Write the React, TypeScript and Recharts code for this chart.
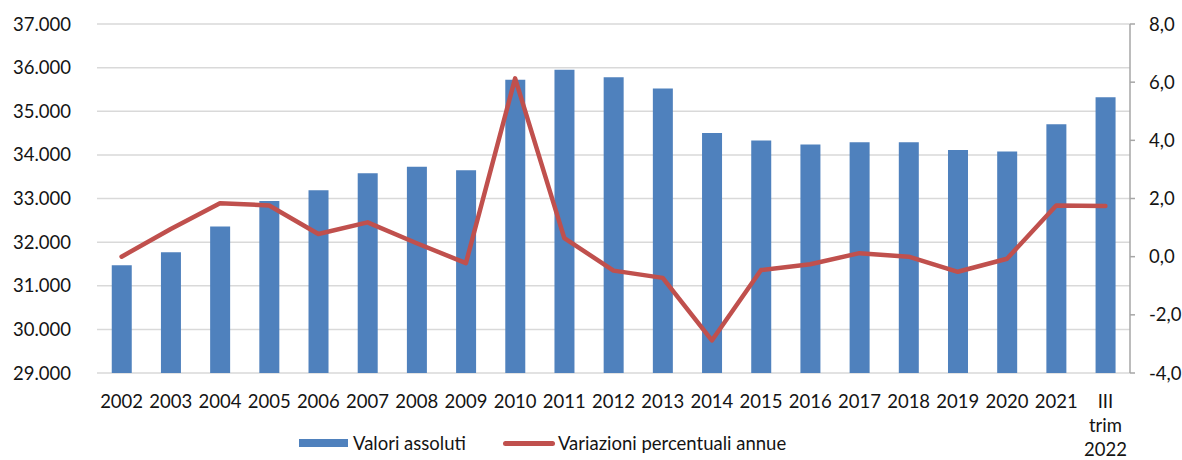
import { ComposedChart, Bar, Line, XAxis, YAxis, CartesianGrid, Legend } from "recharts";

const categories = [
  "2002", "2003", "2004", "2005", "2006", "2007", "2008", "2009", "2010", "2011",
  "2012", "2013", "2014", "2015", "2016", "2017", "2018", "2019", "2020", "2021",
  "III trim 2022",
];

// Valori assoluti (asse sinistro)
const valoriAssoluti = [
  31470, 31770, 32360, 32940, 33190, 33580, 33730, 33650, 35720, 35950,
  35780, 35520, 34500, 34330, 34240, 34290, 34290, 34110, 34080, 34700,
  35320,
];

// Variazioni percentuali annue (asse destro)
const variazioniPercentuali = [
  0.0, 0.95, 1.84, 1.76, 0.78, 1.18, 0.46, -0.22, 6.13, 0.64,
  -0.48, -0.73, -2.88, -0.46, -0.26, 0.12, 0.0, -0.52, -0.07, 1.76,
  1.74,
];

const leftTicks = [29000, 30000, 31000, 32000, 33000, 34000, 35000, 36000, 37000];
const rightTicks = [-4, -2, 0, 2, 4, 6, 8];

const FONT = "Lato, 'Open Sans', sans-serif";
const FONT_SIZE = 18.5;
const TEXT = "#141414";
const BAR_COLOR = "#4F81BD";
const LINE_COLOR = "#C0504D";

const data = categories.map((cat, i) => ({
  cat,
  valori: valoriAssoluti[i],
  variazioni: variazioniPercentuali[i],
}));

function formatThousands(v: number): string {
  return String(v).replace(/\B(?=(\d{3})+(?!\d))/g, ".");
}

function formatPct(v: number): string {
  return v.toFixed(1).replace(".", ",");
}

function CategoryTick(props: any) {
  const { x, y, payload } = props;
  const lines = String(payload.value).split(" ");
  return (
    <text x={x} y={y + 35} textAnchor="middle" fontFamily={FONT} fontSize={FONT_SIZE} fill={TEXT}>
      {lines.map((l, i) => (
        <tspan key={i} x={x} dy={i === 0 ? 0 : 24}>
          {l}
        </tspan>
      ))}
    </text>
  );
}

function LegendContent() {
  return (
    <div
      style={{
        display: "flex",
        alignItems: "center",
        fontFamily: FONT,
        fontSize: FONT_SIZE,
        color: TEXT,
        whiteSpace: "nowrap",
        lineHeight: "22px",
      }}
    >
      <span style={{ width: 49, height: 8, background: BAR_COLOR, marginRight: 5 }} />
      <span>Valori assoluti</span>
      <span
        style={{
          width: 52,
          height: 5,
          background: LINE_COLOR,
          borderRadius: 3,
          marginLeft: 37,
          marginRight: 3,
        }}
      />
      <span>Variazioni percentuali annue</span>
    </div>
  );
}

export default function App() {
  return (
    <div style={{ position: "absolute", left: 0, top: 0, background: "#fff" }}>
      <ComposedChart
        width={1182}
        height={460}
        data={data}
        margin={{ top: 24, right: 0, left: 0, bottom: 0 }}
        barCategoryGap="30%"
      >
        <CartesianGrid
          yAxisId="left"
          vertical={false}
          stroke="#D9D9D9"
          strokeWidth={1.5}
        />
        <XAxis
          dataKey="cat"
          height={87}
          tickLine={false}
          axisLine={false}
          tickSize={0}
          tickMargin={0}
          interval={0}
          tick={<CategoryTick />}
        />
        <YAxis
          yAxisId="left"
          orientation="left"
          width={97}
          domain={[29000, 37000]}
          ticks={leftTicks}
          tickFormatter={formatThousands}
          axisLine={false}
          tickLine={false}
          tickSize={0}
          tickMargin={26}
          allowDataOverflow
          tick={{ fontFamily: FONT, fontSize: FONT_SIZE, fill: TEXT }}
        />
        <YAxis
          yAxisId="right"
          orientation="right"
          width={52}
          domain={[-4, 8]}
          ticks={rightTicks}
          tickFormatter={formatPct}
          axisLine={{ stroke: "#A6A6A6", strokeWidth: 1.5 }}
          tickLine={{ stroke: "#A6A6A6", strokeWidth: 1.5 }}
          tickSize={5}
          tickMargin={14}
          tick={{ fontFamily: FONT, fontSize: FONT_SIZE, fill: TEXT, textAnchor: "start" }}
        />
        <Legend
          layout="horizontal"
          verticalAlign="middle"
          align="center"
          wrapperStyle={{ top: 432, left: 299, width: "auto" }}
          content={<LegendContent />}
        />
        <Bar
          yAxisId="left"
          dataKey="valori"
          name="Valori assoluti"
          fill={BAR_COLOR}
          isAnimationActive={false}
        />
        <Line
          yAxisId="right"
          type="linear"
          dataKey="variazioni"
          name="Variazioni percentuali annue"
          stroke={LINE_COLOR}
          strokeWidth={4.5}
          strokeLinejoin="round"
          strokeLinecap="round"
          dot={false}
          activeDot={false}
          isAnimationActive={false}
        />
      </ComposedChart>
    </div>
  );
}
